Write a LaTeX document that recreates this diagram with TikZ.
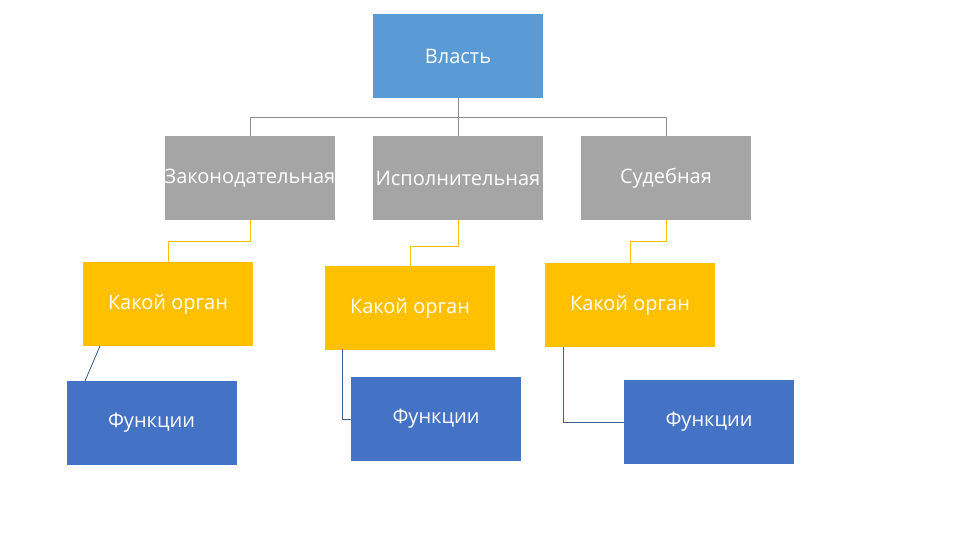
\documentclass[tikz,border=0pt]{standalone}
\usepackage{fontspec}
\setmainfont{Open Sans}
\definecolor{cblue}{HTML}{5B9BD5}
\definecolor{cgray}{HTML}{A5A5A5}
\definecolor{cgold}{HTML}{FFC000}
\definecolor{cdblue}{HTML}{4472C4}
\definecolor{cline}{HTML}{3B5E8C}
\begin{document}
\begin{tikzpicture}[x=1pt,y=-1pt,
  box/.style={rectangle, minimum width=170pt, minimum height=84pt, inner sep=0pt, text=white, font=\fontsize{20}{24}\selectfont},
  topbox/.style={box, fill=cblue},
  graybox/.style={box, fill=cgray},
  goldbox/.style={box, fill=cgold},
  funcbox/.style={box, fill=cdblue},
  grayline/.style={draw=cgray!85!black, line width=0.8pt},
  goldline/.style={draw=cgold, line width=0.8pt},
  blueline/.style={draw=cline, line width=0.8pt}]
\useasboundingbox (0,0) rectangle (960,540);
\fill[white] (0,0) rectangle (960,540);
\node[topbox] (vl) at (458,56) {Власть};
\node[graybox] (zak) at (250,178) {Законодательная};
\node[graybox] (isp) at (458,178) {Исполнительная};
\node[graybox] (sud) at (666,178) {Судебная};
\node[goldbox] (o1) at (168,304) {Какой орган};
\node[goldbox] (o2) at (410,308) {Какой орган};
\node[goldbox] (o3) at (630,305) {Какой орган};
\node[funcbox] (f1) at (151.5,423) {Функции};
\node[funcbox] (f2) at (436,419) {Функции};
\node[funcbox] (f3) at (709,422) {Функции};
% top connectors
\coordinate (hb) at (458,117);
\draw[grayline] (vl.south) -- (hb);
\draw[grayline] (hb) -| (zak.north);
\draw[grayline] (hb) -| (sud.north);
\draw[grayline] (hb) -- (isp.north);
% gold connectors
\coordinate (g1) at (250,241);
\coordinate (g2) at (458,246);
\coordinate (g3) at (666,241);
\draw[goldline] (zak.south) -- (g1) -| (o1.north);
\draw[goldline] (isp.south) -- (g2) -| (o2.north);
\draw[goldline] (sud.south) -- (g3) -| (o3.north);
% blue connectors
\coordinate (b1a) at (100,346);
\coordinate (b1b) at (85,381);
\draw[blueline] (b1a) -- (b1b);
\coordinate (b2) at (342,349);
\draw[blueline] (b2) |- (f2.west);
\coordinate (b3) at (563,347);
\draw[blueline] (b3) |- (f3.west);
\end{tikzpicture}
\end{document}
